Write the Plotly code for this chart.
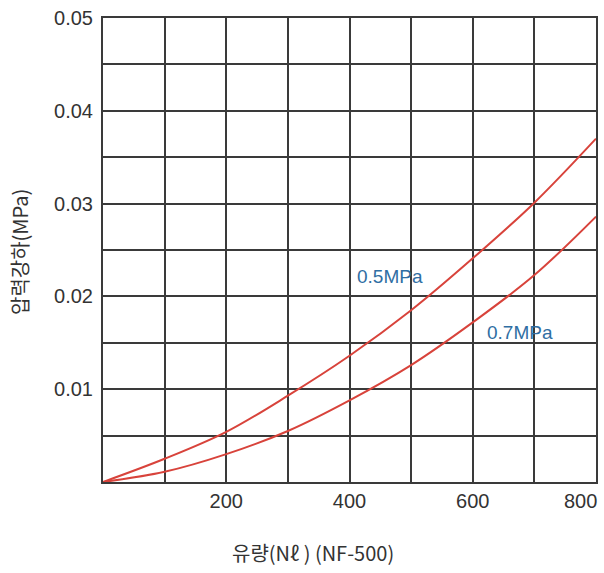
import plotly.graph_objects as go

flow = [0, 100, 200, 300, 400, 500, 600, 700, 800]
drop_05 = [0, 0.0025, 0.0054, 0.0093, 0.0136, 0.0185, 0.0241, 0.0301, 0.0370]
drop_07 = [0, 0.0011, 0.0030, 0.0055, 0.0088, 0.0126, 0.0172, 0.0223, 0.0286]

x_ticks = [0, 100, 200, 300, 400, 500, 600, 700, 800]
x_labels = ["", "", "200", "", "400", "", "600", "", "800"]
y_ticks = [0, 0.005, 0.01, 0.015, 0.02, 0.025, 0.03, 0.035, 0.04, 0.045, 0.05]
y_labels = ["", "", "0.01", "", "0.02", "", "0.03", "", "0.04", "", "0.05"]

red = "#d8433b"
blue = "#2f6ea3"
grid = "#3a3a3a"
W, H = 604, 573
L, R, T, B = 103, 8, 18, 91
pw, ph = W - L - R, H - T - B

fig = go.Figure()
fig.add_trace(go.Scatter(x=flow, y=drop_05, mode="lines", line=dict(color=red, width=2, shape="spline"), showlegend=False))
fig.add_trace(go.Scatter(x=flow, y=drop_07, mode="lines", line=dict(color=red, width=2, shape="spline"), showlegend=False))

fig.add_annotation(x=466, y=0.0221, text="0.5MPa", showarrow=False, font=dict(color=blue, size=19, family="Liberation Sans"))
fig.add_annotation(x=677, y=0.0161, text="0.7MPa", showarrow=False, font=dict(color=blue, size=19, family="Liberation Sans"))

# the last x tick label sits flush against the right edge, as in the reference
shown_x = list(x_labels)
last_label = shown_x[-1]
shown_x[-1] = ""
fig.add_annotation(x=x_ticks[-1], xref="x", y=-(501 - (T + ph)) / ph, yref="paper", text=last_label,
                   showarrow=False, xanchor="right", yanchor="middle", xshift=3,
                   font=dict(size=20, color="#333333", family="Liberation Sans"))

fig.add_annotation(x=(313 - L) / pw, y=-(552 - (T + ph)) / ph, xref="paper", yref="paper",
                   text="유량(Nℓ ) (NF-500)", showarrow=False, xanchor="center", yanchor="middle",
                   font=dict(size=20, color="#333333", family="Noto Sans CJK KR"))
fig.add_annotation(x=-(L - 19) / pw, y=(T + ph - 252) / ph, xref="paper", yref="paper",
                   text="압력강하(MPa)", textangle=-90, showarrow=False, xanchor="center", yanchor="middle",
                   font=dict(size=20, color="#333333", family="Noto Sans CJK KR"))

fig.update_layout(
    width=W, height=H,
    margin=dict(l=L, r=R, t=T, b=B, autoexpand=False),
    paper_bgcolor="white", plot_bgcolor="white",
    font=dict(family="Liberation Sans", size=20, color="#333333"),
)

fig.update_xaxes(range=[0, 800], tickvals=x_ticks, ticktext=shown_x, showgrid=True, gridcolor=grid, gridwidth=2,
                 showline=True, linecolor=grid, linewidth=2, mirror=True, zeroline=False, automargin=False,
                 ticks="", tickfont=dict(size=20))
fig.update_yaxes(range=[0, 0.05], tickvals=y_ticks, ticktext=y_labels, showgrid=True, gridcolor=grid, gridwidth=2,
                 showline=True, linecolor=grid, linewidth=2, mirror=True, zeroline=False, automargin=False,
                 ticks="outside", ticklen=4, tickcolor="rgba(0,0,0,0)", tickfont=dict(size=20))

fig.write_html("out.html", config={"displayModeBar": False},
               post_script="document.body.style.margin='0';document.body.style.padding='0';")
